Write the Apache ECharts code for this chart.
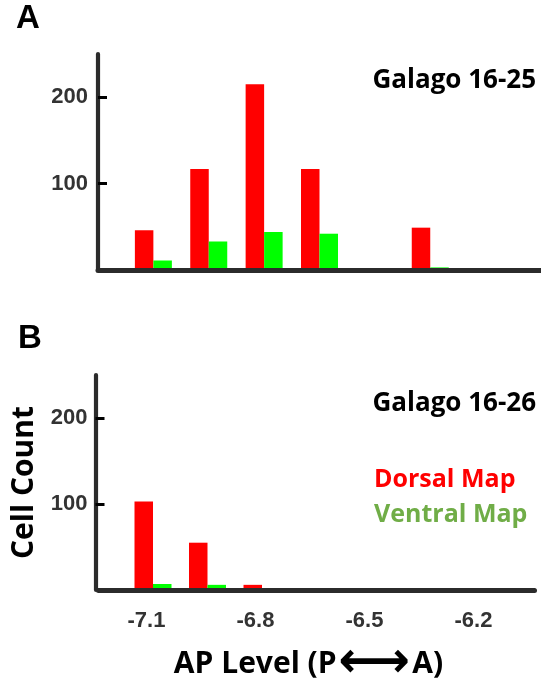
<!DOCTYPE html>
<html>
<head>
<meta charset="utf-8">
<script src="https://cdn.jsdelivr.net/npm/echarts@6/dist/echarts.min.js"></script>
<style>
  html, body { margin: 0; padding: 0; background: #fff; }
  #chart { width: 541px; height: 683px; }
</style>
</head>
<body>
<div id="chart"></div>
<script>
// AP levels, one category every 0.15 (the outer two stay empty)
const categories = ['-7.25', '-7.1', '-6.95', '-6.8', '-6.65', '-6.5', '-6.35', '-6.2', '-6.05'];
const tickLabels = ['-7.1', '-6.8', '-6.5', '-6.2'];
const yTicks = [100, 200];

// Galago 16-25
const dorsalA = [null, 46, 117, 215, 117, null, 49, null, null];
const ventralA = [null, 11, 33, 44, 42, null, 3, null, null];
// Galago 16-26
const dorsalB = [null, 103, 55, 6, null, null, null, null, null];
const ventralB = [null, 7, 6, null, null, null, null, null, null];

const RED = '#ff0000';
const GREEN = '#00ff00';
const AXIS = '#2b2b2b';
const NUM_FONT = '"Liberation Sans", Arial, sans-serif';
const TXT_FONT = '"Open Sans", "Noto Sans", sans-serif';

const chart = echarts.init(document.getElementById('chart'), null, { renderer: 'canvas' });

// the baseline sits just under zero, so push it down a little
function xAxisOf(gridIndex, showLabels) {
    return {
        type: 'category',
        gridIndex: gridIndex,
        data: categories,
        boundaryGap: false,
        offset: 2.5,
        z: 5,
        axisLine: { lineStyle: { color: AXIS, width: 5 } },
        axisTick: { show: false },
        axisLabel: {
            show: showLabels,
            interval: (i, v) => tickLabels.indexOf(v) >= 0,
            margin: 17,
            padding: [0, 13, 0, 0],
            fontFamily: NUM_FONT,
            fontWeight: 'bold',
            fontSize: 22,
            color: '#333'
        },
        splitLine: { show: false }
    };
}

function yAxisOf(gridIndex, offset, margin) {
    return {
        type: 'value',
        gridIndex: gridIndex,
        min: 0,
        max: 250,
        offset: offset,
        z: 5,
        axisLine: { show: true, lineStyle: { color: AXIS, width: 4.2 } },
        axisTick: {
            show: true,
            inside: true,
            length: 9,
            customValues: yTicks,
            lineStyle: { color: '#000', width: 3 }
        },
        axisLabel: {
            customValues: yTicks,
            margin: margin,
            fontFamily: NUM_FONT,
            fontWeight: 'bold',
            fontSize: 22,
            color: '#333'
        },
        splitLine: { show: false }
    };
}

function barsOf(name, data, color, idx) {
    return {
        name: name,
        type: 'bar',
        xAxisIndex: idx,
        yAxisIndex: idx,
        data: data,
        barWidth: 18.5,
        barGap: '0%',
        itemStyle: { color: color },
        silent: true
    };
}

const xB = xAxisOf(1, true);
xB.name = '{t|AP Level (P}{arr|⟷}{t|A)}';
xB.nameLocation = 'middle';
xB.nameGap = 52;
xB.nameTextStyle = {
    padding: [0, 16, 0, 0],
    rich: {
        t: { fontFamily: TXT_FONT, fontWeight: 'bold', fontSize: 30, lineHeight: 40, color: '#000' },
        arr: { fontFamily: '"DejaVu Sans", sans-serif', fontWeight: 'bold', fontSize: 50, lineHeight: 40, color: '#000', padding: [0, 2, 0, 2] }
    }
};

const yB = yAxisOf(1, 3, 8);
yB.name = 'Cell Count';
yB.nameLocation = 'middle';
yB.nameGap = 50;
yB.nameTextStyle = { fontFamily: TXT_FONT, fontWeight: 'bold', fontSize: 30, color: '#000' };

const option = {
    animation: false,
    title: [
        { text: 'A', left: 11, top: -3, textStyle: { fontFamily: NUM_FONT, fontWeight: 'bold', fontSize: 33, color: '#000' } },
        { text: 'B', left: 13, top: 317, textStyle: { fontFamily: NUM_FONT, fontWeight: 'bold', fontSize: 33, color: '#000' } },
        { text: 'Galago 16-25', right: 0, top: 63, textStyle: { fontFamily: TXT_FONT, fontWeight: 'bold', fontSize: 26, color: '#000' } },
        { text: 'Galago 16-26', right: 0, top: 386, textStyle: { fontFamily: TXT_FONT, fontWeight: 'bold', fontSize: 26, color: '#000' } }
    ],
    legend: {
        orient: 'vertical',
        left: 364,
        top: 462,
        icon: 'none',
        itemWidth: 0,
        itemGap: 10,
        selectedMode: false,
        data: [
            { name: 'Dorsal Map', textStyle: { color: RED } },
            { name: 'Ventral Map', textStyle: { color: '#70ad47' } }
        ],
        textStyle: { fontFamily: TXT_FONT, fontWeight: 'bold', fontSize: 25 }
    },
    grid: [
        { left: 98, top: 54, width: 443, height: 216, outerBoundsMode: 'none' },
        { left: 98.5, top: 375, width: 436, height: 215, outerBoundsMode: 'none' }
    ],
    xAxis: [xAxisOf(0, false), xB],
    yAxis: [yAxisOf(0, 0, 10), yB],
    series: [
        barsOf('Dorsal Map', dorsalA, RED, 0),
        barsOf('Ventral Map', ventralA, GREEN, 0),
        barsOf('Dorsal Map', dorsalB, RED, 1),
        barsOf('Ventral Map', ventralB, GREEN, 1)
    ]
};

chart.setOption(option);
</script>
</body>
</html>
